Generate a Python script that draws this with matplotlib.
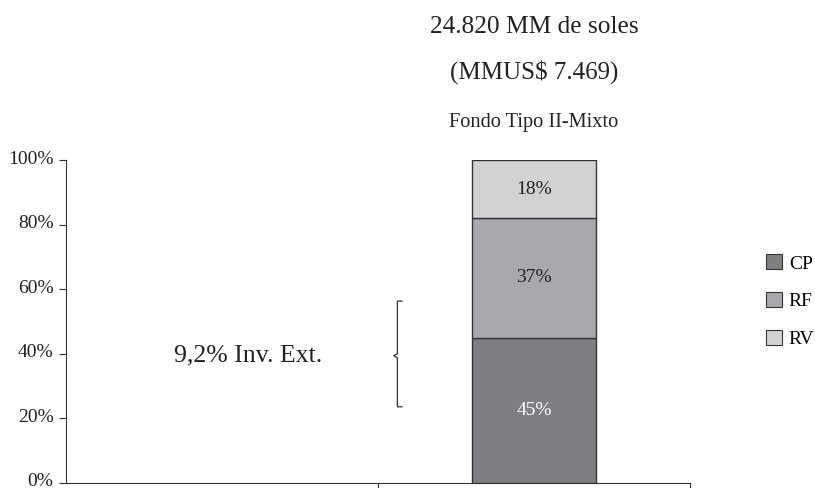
import numpy as np
import matplotlib.pyplot as plt
import matplotlib.transforms as mtransforms
from matplotlib.patches import Patch

plt.rcParams['font.family'] = ['Liberation Serif', 'DejaVu Serif']

# data
series = ['CP', 'RF', 'RV']
values = [45, 37, 18]
colors = ['#7f7f83', '#a9a9ad', '#d2d2d4']
label_colors = ['white', '#222222', '#222222']
yticks = [0, 20, 40, 60, 80, 100]

fig = plt.figure(figsize=(8.15, 4.88), dpi=100)
ax = fig.add_axes([66 / 815, 5 / 488, 624 / 815, 323 / 488])

bottom = 0
for name, v, c, lc in zip(series, values, colors, label_colors):
    ax.bar(1.5, v, 0.4, bottom=bottom, color=c, edgecolor='#333333',
           linewidth=1.0, label=name, zorder=3)
    ax.text(1.5, bottom + v / 2, f'{v}%', ha='center', va='center',
            fontsize=14, color=lc, zorder=4)
    bottom += v

ax.set_xlim(0, 2)
ax.set_ylim(0, 100)
ax.set_yticks(yticks)
ax.set_yticklabels([f'{t}%' for t in yticks], fontsize=14, color='#222222')
ax.set_xticks([1, 2])
ax.set_xticklabels([])
ax.tick_params(axis='x', direction='out', length=5, color='#333333')
ax.tick_params(axis='y', direction='out', length=5, color='#333333', pad=4)
# tick labels sit a little above their ticks in the reference
shift = mtransforms.ScaledTranslation(0, 3 / 100, fig.dpi_scale_trans)
for lab in ax.get_yticklabels():
    lab.set_transform(lab.get_transform() + shift)
for s in ['top', 'right']:
    ax.spines[s].set_visible(False)
for s in ['left', 'bottom']:
    ax.spines[s].set_color('#333333')

# brace
bx, tip = 1.062, 1.05
ax.plot([bx + 0.015, bx, bx, tip, bx, bx, bx + 0.015],
        [56.3, 56.3, 40.0, 39.4, 38.8, 23.6, 23.6], color='#333333', lw=0.9,
        clip_on=False)
ax.text(0.584, 39.6, '9,2% Inv. Ext.', ha='center', va='center',
        fontsize=18.5, color='#222222')

# titles
ax.text(1.5, 141.2, '24.820 MM de soles', ha='center', va='center',
        fontsize=18.3, color='#222222', clip_on=False)
ax.text(1.5, 127.2, '(MMUS$ 7.469)', ha='center', va='center',
        fontsize=18, color='#222222', clip_on=False)
ax.text(1.5, 111.6, 'Fondo Tipo II-Mixto', ha='center', va='center',
        fontsize=14.7, color='#222222', clip_on=False)

handles = [Patch(facecolor=c, edgecolor='#333333', linewidth=0.8) for c in colors]
fig.legend(handles, series, loc='center left', bbox_to_anchor=(0.919, 0.383),
           frameon=False, fontsize=14, handlelength=0.8, handleheight=0.8,
           labelspacing=1.0, handletextpad=0.35)

fig.savefig('out.png', dpi=100)
